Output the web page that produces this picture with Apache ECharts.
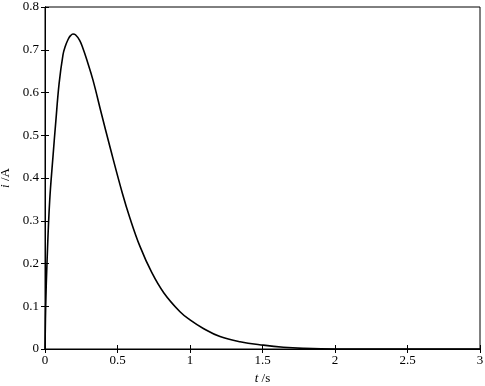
<!DOCTYPE html>
<html>
<head>
<meta charset="utf-8">
<script src="https://cdn.jsdelivr.net/npm/echarts@6/dist/echarts.min.js"></script>
<style>
html,body{margin:0;padding:0;background:#fff;}
#main{width:485px;height:386px;}
</style>
</head>
<body>
<div id="main"></div>
<script>
// Time values (s)
var tValues = [0, 0.005, 0.014, 0.032, 0.055, 0.074, 0.097, 0.124, 0.14, 0.159,
  0.176, 0.193, 0.21, 0.239, 0.262, 0.285, 0.331, 0.388, 0.45, 0.533,
  0.586, 0.655, 0.736, 0.82, 0.931, 1.0, 1.092, 1.207, 1.345, 1.506,
  1.644, 1.78, 2.0, 2.5, 3.0];
// Current values (A)
var iValues = [0, 0.103, 0.204, 0.345, 0.45, 0.53, 0.62, 0.688, 0.708, 0.724,
  0.733, 0.737, 0.735, 0.722, 0.703, 0.68, 0.629, 0.552, 0.470, 0.365,
  0.306, 0.240, 0.179, 0.131, 0.087, 0.068, 0.048, 0.029, 0.017, 0.009,
  0.004, 0.0015, 0, 0, 0];
var xTickLabels = ['0', '0.5', '1', '1.5', '2', '2.5', '3'];
var yTickLabels = ['0', '0.1', '0.2', '0.3', '0.4', '0.5', '0.6', '0.7', '0.8'];

var seriesData = tValues.map(function (t, k) { return [t, iValues[k]]; });

var font = '"Liberation Serif", "Times New Roman", serif';
var axisLineStyle = { color: '#000', width: 1 };
var chart = echarts.init(document.getElementById('main'), null, { renderer: 'canvas' });
chart.setOption({
  animation: false,
  backgroundColor: '#fff',
  grid: { left: 45, right: 5, top: 7, bottom: 37, containLabel: false, outerBoundsMode: 'none',
    show: true, borderColor: '#000', borderWidth: 1, backgroundColor: 'transparent' },
  xAxis: [{
    type: 'value', min: 0, max: 3, interval: 0.5,
    name: '{it|t} /s', nameLocation: 'middle', nameGap: 19,
    nameTextStyle: { fontFamily: font, fontSize: 13, color: '#000',
      rich: { it: { fontStyle: 'italic', fontFamily: font, fontSize: 13, color: '#000' } } },
    axisLine: { show: true, lineStyle: axisLineStyle },
    axisTick: { show: true, inside: true, length: 4, lineStyle: axisLineStyle },
    axisLabel: { fontFamily: font, fontSize: 13, color: '#000', margin: 5,
      formatter: function (v) { return xTickLabels[Math.round(v / 0.5)]; } },
    splitLine: { show: false }
  }, {
    type: 'value', min: 0, max: 3, interval: 0.5, position: 'top',
    axisLine: { show: true, lineStyle: axisLineStyle },
    axisTick: { show: true, inside: true, length: 4, lineStyle: axisLineStyle },
    axisLabel: { show: false }, splitLine: { show: false }
  }],
  yAxis: [{
    type: 'value', min: 0, max: 0.8, interval: 0.1,
    name: '{it|i} /A', nameLocation: 'middle', nameGap: 32, nameRotate: 90,
    nameTextStyle: { fontFamily: font, fontSize: 13, color: '#000',
      rich: { it: { fontStyle: 'italic', fontFamily: font, fontSize: 13, color: '#000' } } },
    axisLine: { show: true, lineStyle: axisLineStyle },
    axisTick: { show: true, inside: true, length: 4, lineStyle: axisLineStyle },
    axisLabel: { fontFamily: font, fontSize: 13, color: '#000', margin: 6,
      formatter: function (v) { return yTickLabels[Math.round(v / 0.1)]; } },
    splitLine: { show: false }
  }, {
    type: 'value', min: 0, max: 0.8, interval: 0.1, position: 'right',
    axisLine: { show: true, lineStyle: axisLineStyle },
    axisTick: { show: true, inside: true, length: 4, lineStyle: axisLineStyle },
    axisLabel: { show: false }, splitLine: { show: false }
  }],
  series: [{
    type: 'line', xAxisIndex: 0, yAxisIndex: 0,
    data: seriesData, showSymbol: false, smooth: 0.4,
    lineStyle: { color: '#000', width: 1.6 },
    z: 5
  }]
});
</script>
</body>
</html>
